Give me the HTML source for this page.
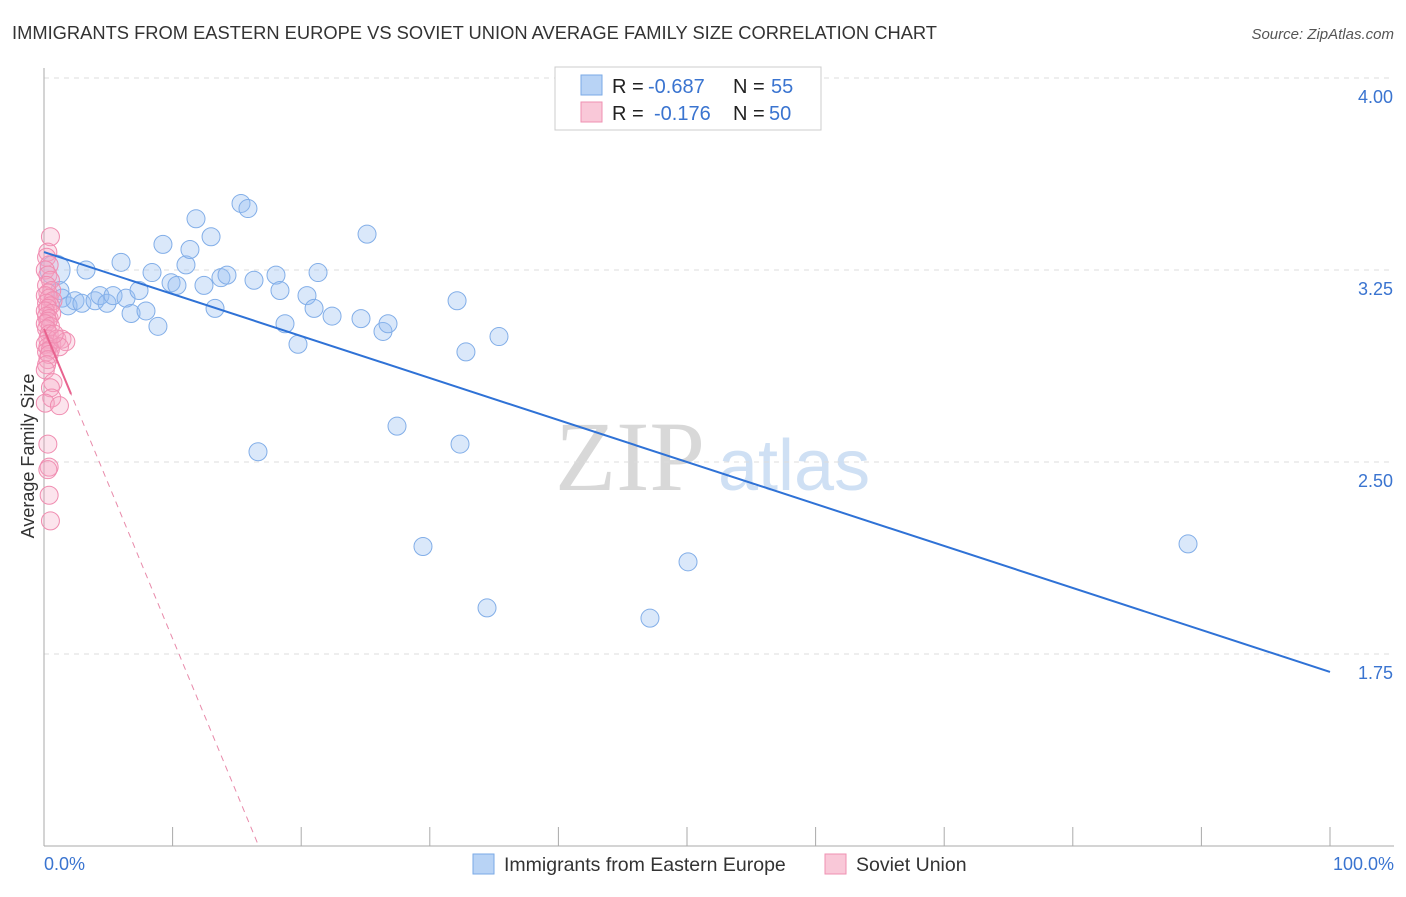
<!DOCTYPE html>
<html><head><meta charset="utf-8">
<style>
body{margin:0;background:#fff;font-family:"Liberation Sans",sans-serif;}
#wrap{position:relative;width:1406px;height:892px;}
</style></head>
<body>
<div id="wrap">
<svg id="svg" width="1406" height="892" xmlns="http://www.w3.org/2000/svg">
<text x="12" y="39" font-size="18" fill="#333" textLength="925" lengthAdjust="spacingAndGlyphs">IMMIGRANTS FROM EASTERN EUROPE VS SOVIET UNION AVERAGE FAMILY SIZE CORRELATION CHART</text>
<text x="1394" y="39" font-size="15" fill="#555" font-style="italic" text-anchor="end">Source: ZipAtlas.com</text>
<text x="555" y="490" font-size="100" fill="#d8d8d8" font-family="Liberation Serif,serif">ZIP</text>
<text x="718" y="490" font-size="72" fill="#cfe0f4">atlas</text>
<text transform="translate(34,456) rotate(-90)" font-size="18" fill="#333" text-anchor="middle">Average Family Size</text>
<g id="grid"></g><g id="marks"></g>
<g>
<rect x="555" y="67" width="266" height="63" fill="#fff" stroke="#ccc"/>
<rect x="581" y="75" width="21" height="20" fill="#b8d3f5" stroke="#7aaae6"/>
<rect x="581" y="102" width="21" height="20" fill="#f9c8d8" stroke="#ef90b2"/>
<g font-size="20" fill="#222">
<text x="612" y="93">R =</text><text x="648" y="93" fill="#3a74d0">-0.687</text><text x="733" y="93">N =</text><text x="771" y="93" fill="#3a74d0">55</text></g>
<g font-size="20" fill="#222">
<text x="612" y="120">R =</text><text x="654" y="120" fill="#3a74d0">-0.176</text><text x="733" y="120">N =</text><text x="769" y="120" fill="#3a74d0">50</text></g>
</g>
<g>
<rect x="473" y="854" width="21" height="20" fill="#b8d3f5" stroke="#7aaae6"/>
<text x="504" y="871" font-size="19.5" fill="#333">Immigrants from Eastern Europe</text>
<rect x="825" y="854" width="21" height="20" fill="#f9c8d8" stroke="#ef90b2"/>
<text x="856" y="871" font-size="19.5" fill="#333">Soviet Union</text>
</g>
<text x="44" y="870" font-size="18" fill="#3a74d0">0.0%</text>
<text x="1394" y="870" font-size="18" fill="#3a74d0" text-anchor="end">100.0%</text>
</svg>
</div>
<script>
const blueX=[0.86,1.24,1.40,1.87,2.41,2.95,3.27,3.97,4.35,4.90,5.37,5.99,6.38,6.77,7.39,7.93,8.40,8.86,9.25,9.88,10.34,11.04,11.35,11.82,12.44,12.99,13.30,13.76,14.23,15.32,15.86,16.33,16.64,18.04,18.35,18.74,19.75,20.45,21.00,21.31,22.40,24.65,25.12,26.36,26.75,27.45,29.47,32.12,32.35,32.81,34.45,35.38,47.12,50.08,88.96];
const blueY=[3.25,3.17,3.14,3.11,3.13,3.12,3.25,3.13,3.15,3.12,3.15,3.28,3.14,3.08,3.17,3.09,3.24,3.03,3.35,3.20,3.19,3.27,3.33,3.45,3.19,3.38,3.10,3.22,3.23,3.51,3.49,3.21,2.54,3.23,3.17,3.04,2.96,3.15,3.10,3.24,3.07,3.06,3.39,3.01,3.04,2.64,2.17,3.13,2.57,2.93,1.93,2.99,1.89,2.11,2.18];
const pinkX=[0.5,0.3,0.2,0.4,0.1,0.3,0.5,0.2,0.6,0.3,0.1,0.4,0.7,0.2,0.5,0.3,0.1,0.6,0.2,0.4,0.3,0.1,0.5,0.2,0.4,0.3,0.6,0.1,0.3,0.5,0.2,0.4,0.3,0.2,0.1,0.7,0.5,0.6,0.1,1.2,0.3,0.4,0.3,0.4,0.5,1.0,1.4,1.7,1.2,0.8];
const pinkY=[3.38,3.32,3.30,3.27,3.25,3.23,3.21,3.19,3.17,3.16,3.15,3.14,3.13,3.12,3.11,3.10,3.09,3.08,3.07,3.06,3.05,3.04,3.03,3.02,3.00,2.98,2.96,2.96,2.95,2.94,2.93,2.92,2.90,2.88,2.86,2.81,2.79,2.75,2.73,2.72,2.57,2.48,2.47,2.37,2.27,2.98,2.98,2.97,2.95,3.00];
const yTicks=[4.00,3.25,2.50,1.75];
const xTicks=[0,10,20,30,40,50,60,70,80,90,100];
const blueTrend=[3.32,1.68];
const pinkTrend={b:3.02,m:-0.121,solidEnd:2.1};

const NS="http://www.w3.org/2000/svg";
const X=p=>44+p*12.86, Y=v=>78+(4-v)*256;
const grid=document.getElementById('grid'), marks=document.getElementById('marks');
function mk(tag,at,parent){const e=document.createElementNS(NS,tag);for(const k in at)e.setAttribute(k,at[k]);parent.appendChild(e);return e;}
yTicks.forEach(v=>{
  const l=mk('line',{x1:44,x2:1394,y1:Y(v),y2:Y(v),stroke:'#ddd','stroke-dasharray':'5,5'},grid);
  
  
  const t=mk('text',{x:1393,y:Y(v)+25,'font-size':18,fill:'#3a74d0','text-anchor':'end'},grid);
  t.textContent=v.toFixed(2);
  
  
});
const ax=mk('line',{x1:44,x2:44,y1:68,y2:846,stroke:'#aaa'},grid);


const bx=mk('line',{x1:44,x2:1394,y1:846,y2:846,stroke:'#aaa'},grid);


xTicks.forEach(p=>{
  const t=mk('line',{x1:X(p),x2:X(p),y1:827,y2:846,stroke:'#aaa'},grid);
  
  
});
blueX.forEach((p,i)=>{
  const c=mk('circle',{cx:X(p),cy:Y(blueY[i]),r:i===0?15:9,fill:'rgba(150,190,240,0.35)',stroke:'#82aee8','stroke-width':1},marks);
  
  
});
pinkX.forEach((p,i)=>{
  const c=mk('circle',{cx:X(p),cy:Y(pinkY[i]),r:9,fill:'rgba(245,165,195,0.3)',stroke:'#f08cb0','stroke-width':1},marks);
  
  
});
const bl=mk('line',{x1:X(0),y1:Y(blueTrend[0]),x2:X(100),y2:Y(blueTrend[1]),stroke:'#2f72d6','stroke-width':2},marks);


const pEnd=(1-pinkTrend.b)/pinkTrend.m;
const pd=mk('line',{x1:X(0),y1:Y(pinkTrend.b),x2:X(pEnd),y2:Y(1),stroke:'#e88aaa','stroke-width':1,'stroke-dasharray':'6,5'},marks);


const ps=mk('line',{x1:X(0),y1:Y(pinkTrend.b),x2:X(pinkTrend.solidEnd),y2:Y(pinkTrend.b+pinkTrend.m*pinkTrend.solidEnd),stroke:'#e8638f','stroke-width':2},marks);


</script>
</body></html>
